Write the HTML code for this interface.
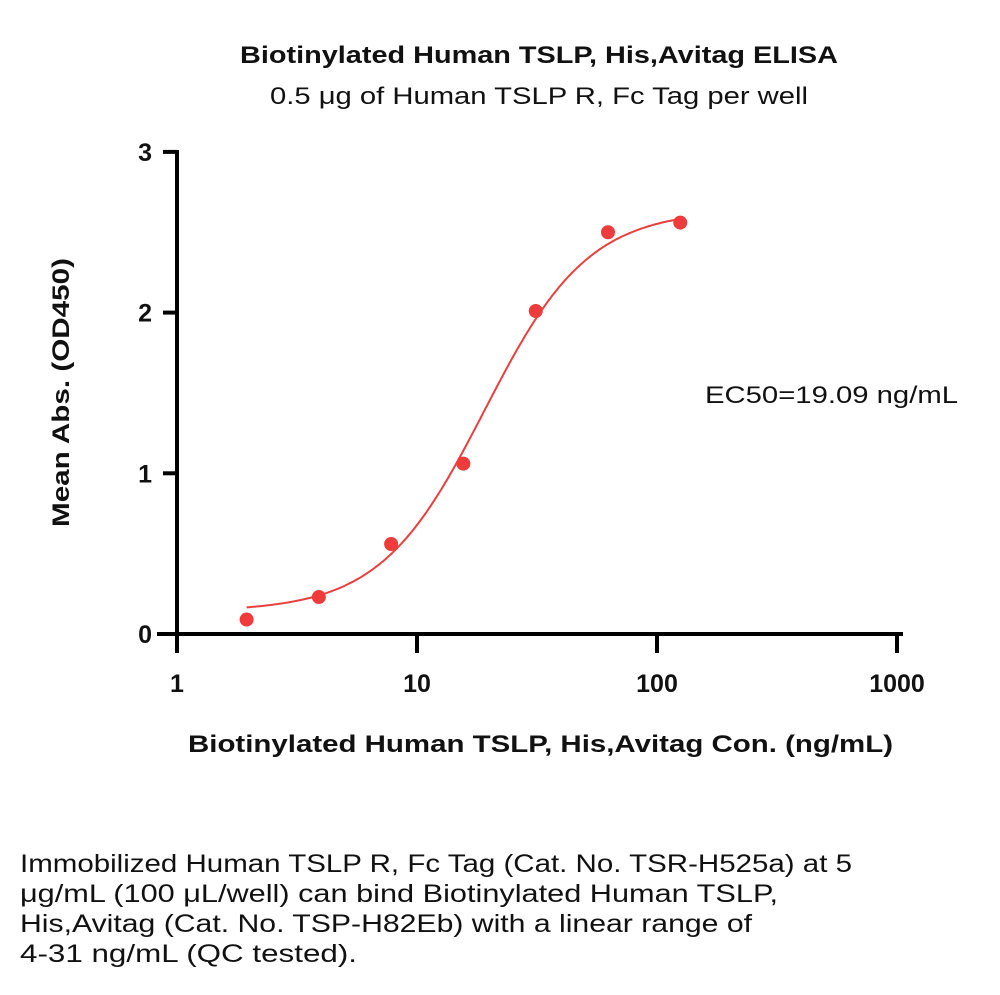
<!DOCTYPE html>
<html><head><meta charset="utf-8"><style>
body{margin:0;background:#fff;width:1000px;height:995px;overflow:hidden;font-family:"Liberation Sans",sans-serif}
svg{position:absolute;left:0;top:0}
</style></head><body>
<svg width="1000" height="995" font-family="Liberation Sans, sans-serif">
<text x="240" y="63" font-size="24" font-weight="bold" fill="#111" textLength="598" lengthAdjust="spacingAndGlyphs">Biotinylated Human TSLP, His,Avitag ELISA</text>
<text x="270" y="104" font-size="24" fill="#111" textLength="538" lengthAdjust="spacingAndGlyphs">0.5 μg of Human TSLP R, Fc Tag per well</text>
<g id="axes"></g>
<g id="marks"></g>
<text x="705" y="403" font-size="24" fill="#111" textLength="253" lengthAdjust="spacingAndGlyphs">EC50=19.09 ng/mL</text>
<text x="188" y="752" font-size="24" font-weight="bold" fill="#111" textLength="705" lengthAdjust="spacingAndGlyphs">Biotinylated Human TSLP, His,Avitag Con. (ng/mL)</text>
<text transform="translate(69,527) rotate(-90)" font-size="24" font-weight="bold" fill="#111" textLength="269" lengthAdjust="spacingAndGlyphs">Mean Abs. (OD450)</text>
<g font-size="25" fill="#111">
<text x="20" y="872" textLength="832" lengthAdjust="spacingAndGlyphs">Immobilized Human TSLP R, Fc Tag (Cat. No. TSR-H525a) at 5</text>
<text x="20" y="902" textLength="758" lengthAdjust="spacingAndGlyphs">μg/mL (100 μL/well) can bind Biotinylated Human TSLP,</text>
<text x="20" y="932" textLength="732" lengthAdjust="spacingAndGlyphs">His,Avitag (Cat. No. TSP-H82Eb) with a linear range of</text>
<text x="20" y="962" textLength="337" lengthAdjust="spacingAndGlyphs">4-31 ng/mL (QC tested).</text>
</g>
</svg>
<script>
const concentrations=[1.95,3.9,7.8,15.6,31.25,62.5,125];
const absorbance=[0.09,0.23,0.56,1.06,2.01,2.50,2.56];
const xTicks=[1,10,100,1000];
const xTickLabels=["1","10","100","1000"];
const yTicks=[0,1,2,3];
const fitBottom=0.14, fitTop=2.64, fitEC50=19.09, fitHill=2.0;
const NS="http://www.w3.org/2000/svg";
const X=v=>177+240*Math.log10(v);
const Y=v=>634-160.7*v;
function mk(tag,attrs,parent){const e=document.createElementNS(NS,tag);for(const k in attrs)e.setAttribute(k,attrs[k]);parent.appendChild(e);return e;}
const ax=document.getElementById('axes'), mg=document.getElementById('marks');
let l=mk('line',{x1:157,y1:634,x2:903,y2:634,stroke:'#000','stroke-width':4},ax);


l=mk('line',{x1:177,y1:150,x2:177,y2:636,stroke:'#000','stroke-width':4},ax);


xTicks.forEach((t,i)=>{
  const x=Math.min(X(t),901);
  let tk=mk('line',{x1:x,y1:634,x2:x,y2:653,stroke:'#000','stroke-width':4},ax);
  
  
  let tx=mk('text',{x:X(t),y:692,'text-anchor':'middle','font-size':25,'font-weight':'bold',fill:'#111'},ax);
  tx.textContent=xTickLabels[i];
  
  
});
yTicks.forEach(t=>{
  let tk=mk('line',{x1:163,y1:Y(t),x2:177,y2:Y(t),stroke:'#000','stroke-width':4},ax);
  
  
  let tx=mk('text',{x:152,y:Y(t)+9,'text-anchor':'end','font-size':25,'font-weight':'bold',fill:'#111'},ax);
  tx.textContent=String(t);
  
  
});
const f=c=>fitBottom+(fitTop-fitBottom)/(1+Math.pow(fitEC50/c,fitHill));
let d='';const lo=Math.log10(concentrations[0]),hi=Math.log10(concentrations[concentrations.length-1]);
for(let i=0;i<=200;i++){const c=Math.pow(10,lo+(hi-lo)*i/200);d+=(i?'L':'M')+X(c).toFixed(1)+','+Y(f(c)).toFixed(1);}
let p=mk('path',{d:d,fill:'none',stroke:'#e8403f','stroke-width':2},mg);


concentrations.forEach((c,i)=>{
  let pt=mk('circle',{cx:X(c),cy:Y(absorbance[i]),r:7,fill:'#ee3b3b'},mg);
  
  
});
</script>
</body></html>
